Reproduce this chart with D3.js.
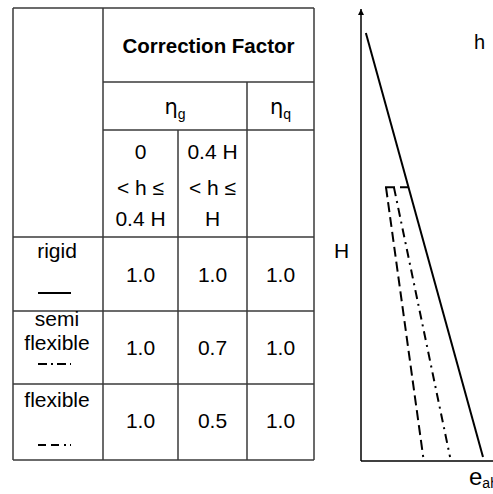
<!DOCTYPE html>
<html>
<head>
<meta charset="utf-8">
<script src="https://cdn.jsdelivr.net/npm/d3@7"></script>
<style>
  html, body { margin: 0; padding: 0; background: #fff; }
  svg { display: block; }
  text { font-family: "Liberation Sans", Arial, sans-serif; fill: #000; }
</style>
</head>
<body>
<div id="chart"></div>
<script>
// table data
var categories = ["rigid", "semi flexible", "flexible"];
var etaG1 = [1.0, 1.0, 1.0];   // 0 < h <= 0.4 H
var etaG2 = [1.0, 0.7, 0.5];   // 0.4 H < h <= H
var etaQ  = [1.0, 1.0, 1.0];
var rangeLabels1 = ["0", "< h \u2264", "0.4 H"];
var rangeLabels2 = ["0.4 H", "< h \u2264", "H"];

// pressure profiles (h as fraction of H, e relative)
var rigidProfile = [{h: 0, e: 0.04}, {h: 1, e: 1.0}];
var semiProfile  = [{h: 0.364, e: 0.27}, {h: 1, e: 0.73}];
var flexProfile  = [{h: 0.364, e: 0.205}, {h: 1, e: 0.51}];
var breakH = 0.364;

var width = 493, height = 494;
var svg = d3.select("#chart").append("svg")
    .attr("width", width)
    .attr("height", height);

// ---- table ----
var colX = [13, 103, 178, 247, 314];
var rowY = [8, 82, 130, 237, 311, 384, 460];
var border = "#3a3a3a";
var fs = "21px";
var tbl = svg.append("g");

function hline(x1, x2, y) {
    tbl.append("line").attr("x1", x1).attr("x2", x2).attr("y1", y).attr("y2", y)
        .style("stroke", border).style("stroke-width", 1.5);
}
function vline(x, y1, y2) {
    tbl.append("line").attr("x1", x).attr("x2", x).attr("y1", y1).attr("y2", y2)
        .style("stroke", border).style("stroke-width", 1.5);
}

hline(colX[0], colX[4], rowY[0]);
hline(colX[1], colX[4], rowY[1]);
hline(colX[1], colX[4], rowY[2]);
rowY.slice(3).forEach(function(y) { hline(colX[0], colX[4], y); });
vline(colX[0], rowY[0], rowY[6]);
vline(colX[1], rowY[0], rowY[6]);
vline(colX[2], rowY[2], rowY[6]);
vline(colX[3], rowY[1], rowY[6]);
vline(colX[4], rowY[0], rowY[6]);

tbl.append("text")
    .attr("x", (colX[1] + colX[4]) / 2).attr("y", 53)
    .attr("text-anchor", "middle")
    .style("font-size", "20.5px").style("font-weight", "bold")
    .text("Correction Factor");

function eta(x, sub) {
    var t = tbl.append("text").attr("x", x).attr("y", 114).attr("text-anchor", "middle");
    t.append("tspan").style("font-family", "'DejaVu Sans', sans-serif").style("font-size", "21px").text("\u03B7");
    t.append("tspan").attr("dy", 5).style("font-size", "14px").text(sub);
}
eta((colX[1] + colX[3]) / 2, "g");
eta((colX[3] + colX[4]) / 2, "q");

var subBase = [159, 195, 226];
[rangeLabels1, rangeLabels2].forEach(function(lbls, c) {
    tbl.selectAll(".rl" + c)
        .data(lbls)
        .enter().append("text")
        .attr("x", (colX[1 + c] + colX[2 + c]) / 2)
        .attr("y", function(d, i) { return subBase[i]; })
        .attr("text-anchor", "middle")
        .style("font-size", fs)
        .text(function(d) { return d; });
});

// category labels with line samples
var catLines = [["rigid"], ["semi", "flexible"], ["flexible"]];
var catBase = [[258], [326, 350], [407]];
var sampleY = [293, 364, 445];
var dashes = [null, "9,4,2,4", "8,5,8,5,2,4"];
categories.forEach(function(c, i) {
    catLines[i].forEach(function(l, j) {
        tbl.append("text")
            .attr("x", 57).attr("y", catBase[i][j])
            .attr("text-anchor", "middle")
            .style("font-size", fs)
            .text(l);
    });
    tbl.append("line")
        .attr("x1", 38).attr("x2", 71)
        .attr("y1", sampleY[i]).attr("y2", sampleY[i])
        .style("stroke", "#000").style("stroke-width", 2)
        .style("stroke-dasharray", dashes[i]);
});

var valBase = [282, 355, 428];
[etaG1, etaG2, etaQ].forEach(function(vals, c) {
    tbl.selectAll(".v" + c)
        .data(vals)
        .enter().append("text")
        .attr("x", (colX[1 + c] + colX[2 + c]) / 2)
        .attr("y", function(d, i) { return valBase[i]; })
        .attr("text-anchor", "middle")
        .style("font-size", fs)
        .text(function(d) { return d3.format(".1f")(d); });
});

// ---- pressure diagram ----
var x0 = 361, yAxisBottom = 461;
var xScale = d3.scaleLinear().domain([0, 1]).range([x0, 483]);
var yScale = d3.scaleLinear().domain([0, 1]).range([33, 457]);

var defs = svg.append("defs");
defs.append("marker")
    .attr("id", "arrow")
    .attr("viewBox", "0 0 10 10")
    .attr("refX", 10).attr("refY", 5)
    .attr("markerWidth", 6).attr("markerHeight", 7)
    .attr("markerUnits", "userSpaceOnUse")
    .attr("orient", "auto")
    .append("path").attr("d", "M0,0 L10,5 L0,10 z").style("fill", "#000");

var dg = svg.append("g");
dg.append("line")
    .attr("x1", x0).attr("y1", yAxisBottom).attr("x2", x0).attr("y2", 9)
    .style("stroke", "#000").style("stroke-width", 1.5)
    .attr("marker-end", "url(#arrow)");
dg.append("line")
    .attr("x1", x0).attr("y1", yAxisBottom).attr("x2", width).attr("y2", yAxisBottom)
    .style("stroke", "#000").style("stroke-width", 1.5);

var line = d3.line()
    .x(function(d) { return xScale(d.e); })
    .y(function(d) { return yScale(d.h); });

dg.append("path").datum(rigidProfile).attr("d", line)
    .style("fill", "none").style("stroke", "#000").style("stroke-width", 2);
dg.append("path").datum(semiProfile).attr("d", line)
    .style("fill", "none").style("stroke", "#000").style("stroke-width", 2)
    .style("stroke-dasharray", "9,5,2,5");
dg.append("path").datum(flexProfile).attr("d", line)
    .style("fill", "none").style("stroke", "#000").style("stroke-width", 2)
    .style("stroke-dasharray", "10,5");

// connector at the break level
var rigidAtBreak = rigidProfile[0].e + (rigidProfile[1].e - rigidProfile[0].e) * breakH;
dg.append("line")
    .attr("x1", xScale(flexProfile[0].e) - 1).attr("x2", xScale(rigidAtBreak))
    .attr("y1", yScale(breakH)).attr("y2", yScale(breakH))
    .style("stroke", "#000").style("stroke-width", 2)
    .style("stroke-dasharray", "10,5");

dg.append("text").attr("x", 474).attr("y", 49)
    .style("font-size", "20px").text("h");
dg.append("text").attr("x", 334).attr("y", 258)
    .style("font-size", "21px").text("H");
var ea = dg.append("text").attr("x", 469).attr("y", 485);
ea.append("tspan").style("font-size", "24px").text("e");
ea.append("tspan").attr("dy", 3).style("font-size", "14px").text("ah");
</script>
</body>
</html>
